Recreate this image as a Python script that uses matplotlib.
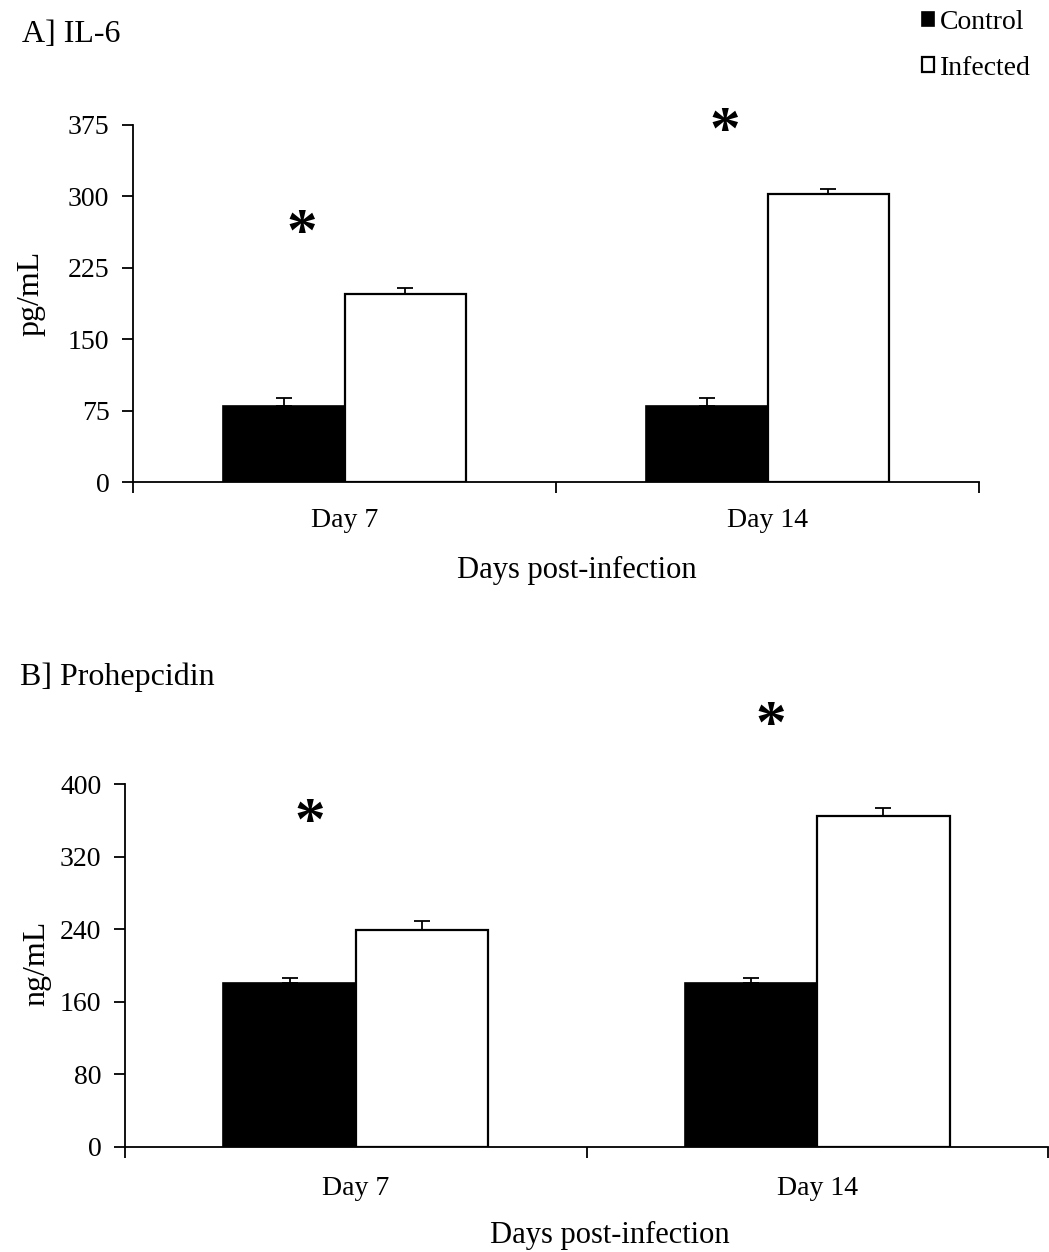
import matplotlib
matplotlib.use("Agg")
import matplotlib.pyplot as plt
import numpy as np

plt.rcParams['font.family'] = ['Liberation Serif', 'DejaVu Serif']

# ---- data ----
categories = ["Day 7", "Day 14"]
series = ["Control", "Infected"]

il6_control = [80, 80]
il6_control_err = [8, 8]
il6_infected = [198, 302]
il6_infected_err = [6, 6]
il6_ticks = [0, 75, 150, 225, 300, 375]
il6_star_y = [259, 367]

hep_control = [180, 180]
hep_control_err = [6, 6]
hep_infected = [239, 365]
hep_infected_err = [10, 9]
hep_ticks = [0, 80, 160, 240, 320, 400]
hep_star_y = [356, 463]

W, H = 1049, 1252
fig = plt.figure(figsize=(W / 100, H / 100), dpi=100)

def px_axes(left, right, top, bottom):
    return fig.add_axes([left / W, 1 - bottom / H, (right - left) / W, (bottom - top) / H])

ax1 = px_axes(133, 979, 125, 482)
ax2 = px_axes(125, 1048, 784, 1146.7)

bw = 0.287

def draw(ax, ctrl, ctrl_err, inf, inf_err, ticks, star_y, ylabel, ylab_x, ylab_y, xlab_y, ticklab_pad):
    x = np.arange(len(categories)) + 0.5
    b1 = ax.bar(x - bw / 2, ctrl, bw, color='black', edgecolor='black', linewidth=1.2,
                label=series[0], zorder=2)
    b2 = ax.bar(x + bw / 2, inf, bw, color='white', edgecolor='black', linewidth=1.6,
                label=series[1], zorder=2)
    ax.errorbar(x - bw / 2, ctrl, yerr=[np.zeros(len(ctrl)), ctrl_err], fmt='none',
                ecolor='black', elinewidth=1.3, capsize=6, capthick=1.3, zorder=1)
    ax.errorbar(x + bw / 2, inf, yerr=[np.zeros(len(inf)), inf_err], fmt='none',
                ecolor='black', elinewidth=1.3, capsize=6, capthick=1.3, zorder=1)
    for xi, sy in zip(x, star_y):
        ax.text(xi - 0.1, sy, "*", ha='center', va='center', fontsize=44,
                fontweight='bold', clip_on=False)
    ax.set_xlim(0, len(categories))
    ax.set_ylim(ticks[0], ticks[-1])
    ax.set_yticks(ticks)
    ax.set_xticks(np.arange(len(categories) + 1))
    ax.set_xticklabels([])
    ax.set_xticks(x, minor=True)
    ax.set_xticklabels(categories, minor=True)
    ax.tick_params(axis='x', which='minor', length=0, labelsize=20, pad=ticklab_pad)
    ax.tick_params(axis='x', which='major', length=8, width=1.3, direction='out')
    ax.tick_params(axis='y', length=8, width=1.3, direction='out', labelsize=20, pad=9)
    for s in ['top', 'right']:
        ax.spines[s].set_visible(False)
    for s in ['left', 'bottom']:
        ax.spines[s].set_linewidth(1.3)
    ax.set_ylabel(ylabel, fontsize=23)
    ax.yaxis.set_label_coords(ylab_x, ylab_y)
    ax.yaxis.label.set_va('center')
    ax.set_xlabel("Days post-infection", fontsize=22)
    ax.xaxis.set_label_coords(0.525, xlab_y)
    ax.xaxis.label.set_va('center')
    return b1, b2

b1, b2 = draw(ax1, il6_control, il6_control_err, il6_infected, il6_infected_err,
              il6_ticks, il6_star_y, "pg/mL", -0.121, 0.529, -0.248, 19)
draw(ax2, hep_control, hep_control_err, hep_infected, hep_infected_err,
     hep_ticks, hep_star_y, "ng/mL", -0.096, 0.505, -0.245, 21)

fig.text(22 / W, 1 - 35 / H, "A] IL-6", fontsize=23, ha='left', va='center')
fig.text(20 / W, 1 - 677 / H, "B] Prohepcidin", fontsize=23, ha='left', va='center')

fig.legend(handles=[b1, b2], labels=series, loc='upper left',
           bbox_to_anchor=(908 / W, 1 + 4 / H), frameon=False, fontsize=20,
           handlelength=0.45, handleheight=0.45, handletextpad=0.2, labelspacing=0.75,
           borderpad=0.0)

fig.savefig("out.png", dpi=100)
